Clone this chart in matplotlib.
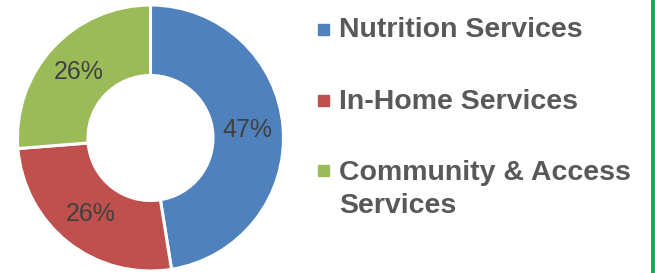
import matplotlib

matplotlib.use("Agg")
import matplotlib.pyplot as plt
from matplotlib.patches import Rectangle

plt.rcParams["font.family"] = ["Liberation Sans", "DejaVu Sans"]

# ── Data ──────────────────────────────────────────────────────────────────────
categories = ["Nutrition Services", "In-Home Services", "Community & Access\nServices"]
shares = [47, 26, 26]
colors = ["#4f81bd", "#c0504d", "#9bbb59"]

W, H = 655, 273
fig = plt.figure(figsize=(W / 100, H / 100), dpi=100)
fig.patch.set_facecolor("white")

# ── Donut ─────────────────────────────────────────────────────────────────────
cx, cy, r = 150.5, 138, 133
ax = fig.add_axes([(cx - r) / W, (H - cy - r) / H, 2 * r / W, 2 * r / H])
ax.pie(shares, colors=colors, startangle=90, counterclock=False, radius=1,
       autopct=lambda p: f"{p:.0f}%", pctdistance=0.73,
       wedgeprops=dict(width=0.53, edgecolor="white", linewidth=2.2),
       textprops=dict(fontsize=18, color="#404040"))
ax.set_xlim(-1, 1)
ax.set_ylim(-1, 1)
ax.set_aspect("equal")
ax.axis("off")

# ── Legend ────────────────────────────────────────────────────────────────────
# baseline of the last line of each label (multi-line text aligns on it)
marker_y = [29, 100, 170.5]
baseline_y = [37, 109, 213]
for label, c, my, by in zip(categories, colors, marker_y, baseline_y):
    fig.patches.append(Rectangle((318 / W, (H - my - 5.5) / H), 11 / W, 11 / H,
                                 transform=fig.transFigure, color=c))
    fig.text(339 / W, (H - by) / H, label, fontsize=20.5, fontweight="bold",
             color="#595959", va="baseline", ha="left", linespacing=1.35)

# green frame edge on the right
fig.add_artist(plt.Line2D([652.5 / W, 652.5 / W], [0, 1], transform=fig.transFigure,
                          color="#00b050", linewidth=2.8))

fig.savefig("out.png", dpi=100, facecolor="white")
